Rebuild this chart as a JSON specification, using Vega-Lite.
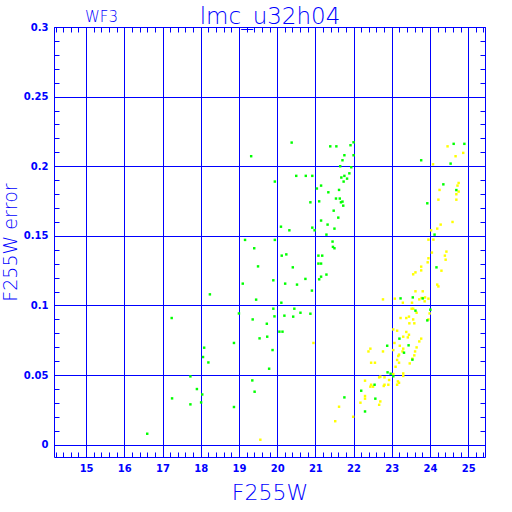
{
  "$schema": "https://vega.github.io/schema/vega-lite/v6.json",
  "width": 431,
  "height": 430,
  "autosize": "none",
  "padding": {"left": 54, "top": 27, "right": 27, "bottom": 55},
  "background": "white",
  "config": {
    "view": {"stroke": "#0000ff", "strokeWidth": 1},
    "axis": {
      "domain": false,
      "tickColor": "#0000ff",
      "tickSize": -5,
      "tickWidth": 1,
      "gridColor": "#0000ff",
      "gridWidth": 1,
      "labelColor": "#0000ff",
      "labelFont": "DejaVu Sans",
      "labelFontWeight": "bold",
      "labelFontSize": 10,
      "titleColor": "#0000ff",
      "titleFont": "DejaVu Sans",
      "titleFontWeight": 200
    }
  },
  "title": {
    "text": "WF3",
    "anchor": "start",
    "frame": "group",
    "dx": 31,
    "dy": 24,
    "fontSize": 15,
    "font": "DejaVu Sans",
    "fontWeight": 200,
    "color": "#0000ff",
    "offset": 4
  },
  "datasets": {
    "phot": [
      {"mag": 19.56, "err": 0.0036, "set": "y"},
      {"mag": 20.95, "err": 0.0731, "set": "y"},
      {"mag": 21.52, "err": 0.0169, "set": "y"},
      {"mag": 21.62, "err": 0.0273, "set": "y"},
      {"mag": 21.99, "err": 0.0201, "set": "y"},
      {"mag": 22.18, "err": 0.0302, "set": "y"},
      {"mag": 22.30, "err": 0.0350, "set": "y"},
      {"mag": 22.30, "err": 0.0331, "set": "y"},
      {"mag": 22.30, "err": 0.0460, "set": "y"},
      {"mag": 22.44, "err": 0.0690, "set": "y"},
      {"mag": 22.39, "err": 0.0670, "set": "y"},
      {"mag": 22.46, "err": 0.0589, "set": "y"},
      {"mag": 22.56, "err": 0.0589, "set": "y"},
      {"mag": 22.46, "err": 0.0431, "set": "y"},
      {"mag": 22.51, "err": 0.0417, "set": "y"},
      {"mag": 22.44, "err": 0.0417, "set": "y"},
      {"mag": 22.67, "err": 0.0484, "set": "y"},
      {"mag": 22.70, "err": 0.0489, "set": "y"},
      {"mag": 22.67, "err": 0.0287, "set": "y"},
      {"mag": 22.70, "err": 0.0311, "set": "y"},
      {"mag": 22.77, "err": 0.0670, "set": "y"},
      {"mag": 22.77, "err": 0.1044, "set": "y"},
      {"mag": 22.81, "err": 0.0484, "set": "y"},
      {"mag": 22.81, "err": 0.0431, "set": "y"},
      {"mag": 22.79, "err": 0.0422, "set": "y"},
      {"mag": 22.91, "err": 0.0431, "set": "y"},
      {"mag": 22.93, "err": 0.0465, "set": "y"},
      {"mag": 23.04, "err": 0.0828, "set": "y"},
      {"mag": 23.04, "err": 0.0680, "set": "y"},
      {"mag": 23.04, "err": 0.0508, "set": "y"},
      {"mag": 23.07, "err": 0.0731, "set": "y"},
      {"mag": 23.08, "err": 0.1049, "set": "y"},
      {"mag": 23.10, "err": 0.0560, "set": "y"},
      {"mag": 23.14, "err": 0.0819, "set": "y"},
      {"mag": 23.14, "err": 0.0609, "set": "y"},
      {"mag": 23.14, "err": 0.0431, "set": "y"},
      {"mag": 23.16, "err": 0.0455, "set": "y"},
      {"mag": 23.17, "err": 0.0637, "set": "y"},
      {"mag": 23.19, "err": 0.0647, "set": "y"},
      {"mag": 23.19, "err": 0.0589, "set": "y"},
      {"mag": 23.19, "err": 0.0445, "set": "y"},
      {"mag": 23.21, "err": 0.0711, "set": "y"},
      {"mag": 23.23, "err": 0.0910, "set": "y"},
      {"mag": 23.28, "err": 0.0670, "set": "y"},
      {"mag": 23.29, "err": 0.1020, "set": "y"},
      {"mag": 23.30, "err": 0.0776, "set": "y"},
      {"mag": 23.30, "err": 0.0690, "set": "y"},
      {"mag": 23.30, "err": 0.0512, "set": "y"},
      {"mag": 23.30, "err": 0.0494, "set": "y"},
      {"mag": 23.38, "err": 0.0910, "set": "y"},
      {"mag": 23.38, "err": 0.0810, "set": "y"},
      {"mag": 23.42, "err": 0.0771, "set": "y"},
      {"mag": 23.45, "err": 0.0920, "set": "y"},
      {"mag": 23.45, "err": 0.0790, "set": "y"},
      {"mag": 23.46, "err": 0.0872, "set": "y"},
      {"mag": 23.47, "err": 0.0584, "set": "y"},
      {"mag": 23.52, "err": 0.0977, "set": "y"},
      {"mag": 23.56, "err": 0.0977, "set": "y"},
      {"mag": 23.53, "err": 0.1020, "set": "y"},
      {"mag": 23.54, "err": 0.0618, "set": "y"},
      {"mag": 23.56, "err": 0.0900, "set": "y"},
      {"mag": 23.56, "err": 0.1224, "set": "y"},
      {"mag": 23.59, "err": 0.0872, "set": "y"},
      {"mag": 23.59, "err": 0.0642, "set": "y"},
      {"mag": 23.61, "err": 0.0670, "set": "y"},
      {"mag": 23.62, "err": 0.1102, "set": "y"},
      {"mag": 23.62, "err": 0.1238, "set": "y"},
      {"mag": 23.65, "err": 0.0948, "set": "y"},
      {"mag": 23.65, "err": 0.0699, "set": "y"},
      {"mag": 23.72, "err": 0.0742, "set": "y"},
      {"mag": 23.72, "err": 0.1044, "set": "y"},
      {"mag": 23.77, "err": 0.1279, "set": "y"},
      {"mag": 23.77, "err": 0.1252, "set": "y"},
      {"mag": 23.77, "err": 0.0762, "set": "y"},
      {"mag": 23.78, "err": 0.1054, "set": "y"},
      {"mag": 23.81, "err": 0.1102, "set": "y"},
      {"mag": 23.86, "err": 0.1030, "set": "y"},
      {"mag": 23.87, "err": 0.1058, "set": "y"},
      {"mag": 23.94, "err": 0.1310, "set": "y"},
      {"mag": 23.96, "err": 0.1473, "set": "y"},
      {"mag": 23.96, "err": 0.1339, "set": "y"},
      {"mag": 23.96, "err": 0.1049, "set": "y"},
      {"mag": 23.96, "err": 0.0900, "set": "y"},
      {"mag": 23.99, "err": 0.0943, "set": "y"},
      {"mag": 24.03, "err": 0.1540, "set": "y"},
      {"mag": 24.05, "err": 0.1380, "set": "y"},
      {"mag": 24.08, "err": 0.2014, "set": "y"},
      {"mag": 24.09, "err": 0.1473, "set": "y"},
      {"mag": 24.19, "err": 0.1552, "set": "y"},
      {"mag": 24.19, "err": 0.1150, "set": "y"},
      {"mag": 24.22, "err": 0.1137, "set": "y"},
      {"mag": 24.22, "err": 0.1760, "set": "y"},
      {"mag": 24.25, "err": 0.1830, "set": "y"},
      {"mag": 24.28, "err": 0.1581, "set": "y"},
      {"mag": 24.30, "err": 0.1250, "set": "y"},
      {"mag": 24.39, "err": 0.1358, "set": "y"},
      {"mag": 24.41, "err": 0.1329, "set": "y"},
      {"mag": 24.43, "err": 0.1387, "set": "y"},
      {"mag": 24.46, "err": 0.2143, "set": "y"},
      {"mag": 24.59, "err": 0.1600, "set": "y"},
      {"mag": 24.67, "err": 0.2072, "set": "y"},
      {"mag": 24.69, "err": 0.1799, "set": "y"},
      {"mag": 24.69, "err": 0.1760, "set": "y"},
      {"mag": 24.72, "err": 0.1861, "set": "y"},
      {"mag": 24.75, "err": 0.1880, "set": "y"},
      {"mag": 24.75, "err": 0.1818, "set": "y"},
      {"mag": 24.87, "err": 0.2096, "set": "y"},
      {"mag": 16.60, "err": 0.0079, "set": "g"},
      {"mag": 17.24, "err": 0.0910, "set": "g"},
      {"mag": 17.25, "err": 0.0333, "set": "g"},
      {"mag": 17.73, "err": 0.0491, "set": "g"},
      {"mag": 17.73, "err": 0.0290, "set": "g"},
      {"mag": 17.90, "err": 0.0400, "set": "g"},
      {"mag": 18.01, "err": 0.0304, "set": "g"},
      {"mag": 18.04, "err": 0.0361, "set": "g"},
      {"mag": 18.09, "err": 0.0697, "set": "g"},
      {"mag": 18.06, "err": 0.0630, "set": "g"},
      {"mag": 18.20, "err": 0.0591, "set": "g"},
      {"mag": 18.24, "err": 0.1080, "set": "g"},
      {"mag": 18.87, "err": 0.0731, "set": "g"},
      {"mag": 18.87, "err": 0.0271, "set": "g"},
      {"mag": 19.00, "err": 0.0943, "set": "g"},
      {"mag": 19.10, "err": 0.1157, "set": "g"},
      {"mag": 19.16, "err": 0.1471, "set": "g"},
      {"mag": 19.32, "err": 0.2072, "set": "g"},
      {"mag": 19.35, "err": 0.0462, "set": "g"},
      {"mag": 19.36, "err": 0.0900, "set": "g"},
      {"mag": 19.40, "err": 0.1411, "set": "g"},
      {"mag": 19.41, "err": 0.0381, "set": "g"},
      {"mag": 19.45, "err": 0.1042, "set": "g"},
      {"mag": 19.50, "err": 0.1281, "set": "g"},
      {"mag": 19.54, "err": 0.0764, "set": "g"},
      {"mag": 19.73, "err": 0.0869, "set": "g"},
      {"mag": 19.74, "err": 0.0776, "set": "g"},
      {"mag": 19.79, "err": 0.0546, "set": "g"},
      {"mag": 19.88, "err": 0.0680, "set": "g"},
      {"mag": 19.90, "err": 0.1181, "set": "g"},
      {"mag": 19.90, "err": 0.0977, "set": "g"},
      {"mag": 19.93, "err": 0.0922, "set": "g"},
      {"mag": 19.94, "err": 0.1890, "set": "g"},
      {"mag": 19.94, "err": 0.1471, "set": "g"},
      {"mag": 20.06, "err": 0.0812, "set": "g"},
      {"mag": 20.14, "err": 0.0812, "set": "g"},
      {"mag": 20.10, "err": 0.1566, "set": "g"},
      {"mag": 20.12, "err": 0.1358, "set": "g"},
      {"mag": 20.11, "err": 0.1020, "set": "g"},
      {"mag": 20.19, "err": 0.0927, "set": "g"},
      {"mag": 20.21, "err": 0.1157, "set": "g"},
      {"mag": 20.24, "err": 0.1367, "set": "g"},
      {"mag": 20.32, "err": 0.1540, "set": "g"},
      {"mag": 20.38, "err": 0.2170, "set": "g"},
      {"mag": 20.41, "err": 0.1274, "set": "g"},
      {"mag": 20.42, "err": 0.0920, "set": "g"},
      {"mag": 20.45, "err": 0.0977, "set": "g"},
      {"mag": 20.50, "err": 0.1931, "set": "g"},
      {"mag": 20.52, "err": 0.1150, "set": "g"},
      {"mag": 20.61, "err": 0.0948, "set": "g"},
      {"mag": 20.74, "err": 0.1191, "set": "g"},
      {"mag": 20.75, "err": 0.1931, "set": "g"},
      {"mag": 20.87, "err": 0.1741, "set": "g"},
      {"mag": 20.87, "err": 0.0941, "set": "g"},
      {"mag": 20.91, "err": 0.1107, "set": "g"},
      {"mag": 20.92, "err": 0.1931, "set": "g"},
      {"mag": 20.92, "err": 0.1559, "set": "g"},
      {"mag": 20.98, "err": 0.1540, "set": "g"},
      {"mag": 21.04, "err": 0.1840, "set": "g"},
      {"mag": 21.08, "err": 0.1358, "set": "g"},
      {"mag": 21.08, "err": 0.1301, "set": "g"},
      {"mag": 21.10, "err": 0.1748, "set": "g"},
      {"mag": 21.10, "err": 0.1188, "set": "g"},
      {"mag": 21.15, "err": 0.1861, "set": "g"},
      {"mag": 21.15, "err": 0.1610, "set": "g"},
      {"mag": 21.15, "err": 0.1301, "set": "g"},
      {"mag": 21.15, "err": 0.1207, "set": "g"},
      {"mag": 21.18, "err": 0.1358, "set": "g"},
      {"mag": 21.29, "err": 0.1509, "set": "g"},
      {"mag": 21.29, "err": 0.1222, "set": "g"},
      {"mag": 21.32, "err": 0.1581, "set": "g"},
      {"mag": 21.34, "err": 0.1813, "set": "g"},
      {"mag": 21.39, "err": 0.2143, "set": "g"},
      {"mag": 21.45, "err": 0.1459, "set": "g"},
      {"mag": 21.46, "err": 0.1421, "set": "g"},
      {"mag": 21.48, "err": 0.1681, "set": "g"},
      {"mag": 21.50, "err": 0.1552, "set": "g"},
      {"mag": 21.50, "err": 0.1411, "set": "g"},
      {"mag": 21.54, "err": 0.1768, "set": "g"},
      {"mag": 21.55, "err": 0.2143, "set": "g"},
      {"mag": 21.60, "err": 0.1631, "set": "g"},
      {"mag": 21.62, "err": 0.1830, "set": "g"},
      {"mag": 21.64, "err": 0.1768, "set": "g"},
      {"mag": 21.65, "err": 0.2000, "set": "g"},
      {"mag": 21.67, "err": 0.1741, "set": "g"},
      {"mag": 21.68, "err": 0.1919, "set": "g"},
      {"mag": 21.71, "err": 0.2043, "set": "g"},
      {"mag": 21.71, "err": 0.1746, "set": "g"},
      {"mag": 21.73, "err": 0.1717, "set": "g"},
      {"mag": 21.74, "err": 0.1890, "set": "g"},
      {"mag": 21.76, "err": 0.2079, "set": "g"},
      {"mag": 21.76, "err": 0.1931, "set": "g"},
      {"mag": 21.83, "err": 0.1911, "set": "g"},
      {"mag": 21.89, "err": 0.1949, "set": "g"},
      {"mag": 21.92, "err": 0.2151, "set": "g"},
      {"mag": 21.94, "err": 0.1993, "set": "g"},
      {"mag": 22.00, "err": 0.2172, "set": "g"},
      {"mag": 22.00, "err": 0.2079, "set": "g"},
      {"mag": 21.76, "err": 0.0340, "set": "g"},
      {"mag": 22.20, "err": 0.0388, "set": "g"},
      {"mag": 22.30, "err": 0.0239, "set": "g"},
      {"mag": 22.55, "err": 0.0431, "set": "g"},
      {"mag": 22.57, "err": 0.0331, "set": "g"},
      {"mag": 22.88, "err": 0.0711, "set": "g"},
      {"mag": 22.89, "err": 0.0520, "set": "g"},
      {"mag": 22.97, "err": 0.0510, "set": "g"},
      {"mag": 23.04, "err": 0.0492, "set": "g"},
      {"mag": 23.20, "err": 0.0762, "set": "g"},
      {"mag": 23.23, "err": 0.1051, "set": "g"},
      {"mag": 23.32, "err": 0.0661, "set": "g"},
      {"mag": 23.44, "err": 0.0714, "set": "g"},
      {"mag": 23.54, "err": 0.0611, "set": "g"},
      {"mag": 23.55, "err": 0.1058, "set": "g"},
      {"mag": 23.62, "err": 0.0963, "set": "g"},
      {"mag": 23.77, "err": 0.2043, "set": "g"},
      {"mag": 23.81, "err": 0.1051, "set": "g"},
      {"mag": 23.93, "err": 0.1734, "set": "g"},
      {"mag": 23.93, "err": 0.0893, "set": "g"},
      {"mag": 24.01, "err": 0.0970, "set": "g"},
      {"mag": 24.12, "err": 0.1509, "set": "g"},
      {"mag": 24.17, "err": 0.1274, "set": "g"},
      {"mag": 24.35, "err": 0.1870, "set": "g"},
      {"mag": 24.54, "err": 0.2019, "set": "g"},
      {"mag": 24.62, "err": 0.2161, "set": "g"},
      {"mag": 24.69, "err": 0.1829, "set": "g"},
      {"mag": 24.90, "err": 0.2161, "set": "g"}
    ]
  },
  "data": {"name": "phot"},
  "layer": [
    {
      "transform": [{"filter": "datum.set === 'y'"}],
      "mark": {"type": "square", "size": 6, "opacity": 1},
      "encoding": {
        "x": {
          "field": "mag", "type": "quantitative",
          "scale": {"domain": [14.16, 25.44], "nice": false, "zero": false},
          "axis": {
            "orient": "bottom",
            "values": [14.2,14.4,14.6,14.8,15,15.2,15.4,15.6,15.8,16,16.2,16.4,16.6,16.8,17,17.2,17.4,17.6,17.8,18,18.2,18.4,18.6,18.8,19,19.2,19.4,19.6,19.8,20,20.2,20.4,20.6,20.8,21,21.2,21.4,21.6,21.8,22,22.2,22.4,22.6,22.8,23,23.2,23.4,23.6,23.8,24,24.2,24.4,24.6,24.8,25,25.2,25.4],
            "grid": true,
            "gridOpacity": {"condition": {"test": "datum.value % 1 === 0", "value": 1}, "value": 0},
            "labelExpr": "datum.value % 1 === 0 ? '' + datum.value : ''",
            "labelPadding": 11,
            "labelFlush": false,
            "labelOverlap": false,
            "title": "F255W",
            "titleFontSize": 22,
            "titlePadding": 9
          }
        },
        "y": {
          "field": "err", "type": "quantitative",
          "scale": {"domain": [-0.0088, 0.3], "nice": false, "zero": false},
          "axis": {
            "orient": "left",
            "values": [0,0.01,0.02,0.03,0.04,0.05,0.06,0.07,0.08,0.09,0.1,0.11,0.12,0.13,0.14,0.15,0.16,0.17,0.18,0.19,0.2,0.21,0.22,0.23,0.24,0.25,0.26,0.27,0.28,0.29,0.3],
            "grid": true,
            "gridOpacity": {"condition": {"test": "round(datum.value * 100) % 5 === 0", "value": 1}, "value": 0},
            "labelExpr": "round(datum.value * 100) % 5 === 0 ? '' + datum.value : ''",
            "labelPadding": 11,
            "labelFlush": false,
            "labelOverlap": false,
            "title": "F255W error",
            "titleFontSize": 19,
            "titleX": -38,
            "titleY": 215,
            "titleAngle": 270,
            "titleAlign": "center",
            "titleBaseline": "alphabetic"
          }
        },
        "color": {
          "field": "set", "type": "nominal",
          "scale": {"domain": ["g", "y"], "range": ["#00ff00", "#ffff00"]},
          "legend": null
        }
      }
    },
    {
      "transform": [{"filter": "datum.set === 'g'"}],
      "mark": {"type": "square", "size": 6, "opacity": 1},
      "encoding": {
        "x": {
          "field": "mag", "type": "quantitative",
          "scale": {"domain": [14.16, 25.44], "nice": false, "zero": false},
          "axis": {
            "orient": "top",
            "values": [14.2,14.4,14.6,14.8,15,15.2,15.4,15.6,15.8,16,16.2,16.4,16.6,16.8,17,17.2,17.4,17.6,17.8,18,18.2,18.4,18.6,18.8,19,19.2,19.4,19.6,19.8,20,20.2,20.4,20.6,20.8,21,21.2,21.4,21.6,21.8,22,22.2,22.4,22.6,22.8,23,23.2,23.4,23.6,23.8,24,24.2,24.4,24.6,24.8,25,25.2,25.4],
            "grid": false,
            "labels": false,
            "title": "lmc_u32h04",
            "titleFontSize": 23,
            "titleX": 215.5,
            "titleY": -4,
            "titleAlign": "center",
            "titleBaseline": "alphabetic"
          }
        },
        "y": {
          "field": "err", "type": "quantitative",
          "scale": {"domain": [-0.0088, 0.3], "nice": false, "zero": false},
          "axis": {
            "orient": "right",
            "values": [0,0.01,0.02,0.03,0.04,0.05,0.06,0.07,0.08,0.09,0.1,0.11,0.12,0.13,0.14,0.15,0.16,0.17,0.18,0.19,0.2,0.21,0.22,0.23,0.24,0.25,0.26,0.27,0.28,0.29,0.3],
            "grid": false,
            "labels": false,
            "title": null
          }
        },
        "color": {
          "field": "set", "type": "nominal",
          "scale": {"domain": ["g", "y"], "range": ["#00ff00", "#ffff00"]},
          "legend": null
        }
      }
    }
  ],
  "resolve": {"axis": {"x": "independent", "y": "independent"}}
}
